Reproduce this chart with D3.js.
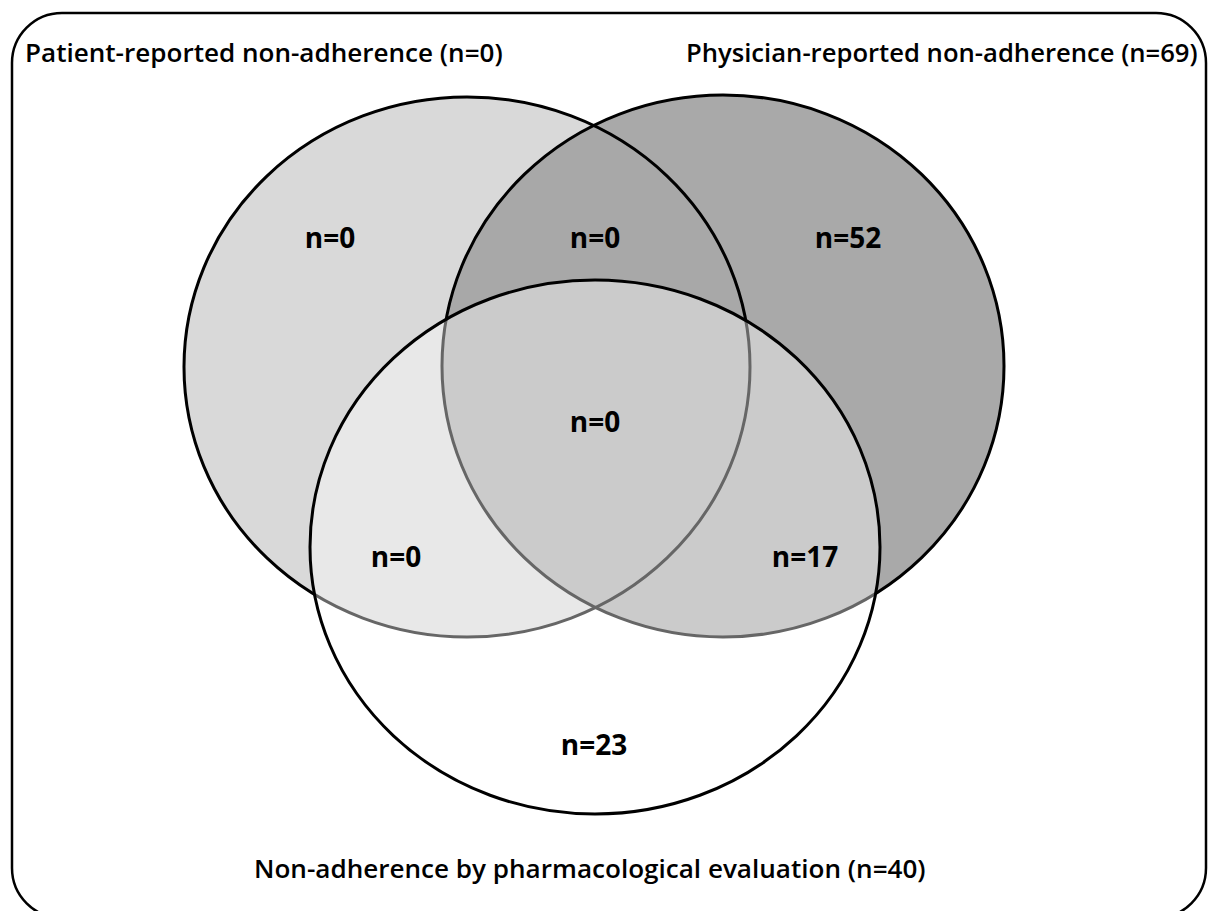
<!DOCTYPE html>
<html>
<head>
<meta charset="utf-8">
<script src="https://cdn.jsdelivr.net/npm/d3@7"></script>
<style>
  body { margin: 0; background: #fff; }
  svg { display: block; }
</style>
</head>
<body>
<div id="chart"><svg width="1208" height="911"></svg></div>
<script>
// set names and totals
const setNames = [
  'Patient-reported non-adherence',
  'Physician-reported non-adherence',
  'Non-adherence by pharmacological evaluation'
];
const setTotals = [0, 69, 40];

// region counts (which sets each region belongs to)
const regionSets = [[0], [0, 1], [1], [0, 1, 2], [0, 2], [1, 2], [2]];
const regionCounts = [0, 0, 52, 0, 0, 17, 23];

// layout
const ellipses = [
  {cx: 467, cy: 367, rx: 283, ry: 270},
  {cx: 723, cy: 366, rx: 281, ry: 271},
  {cx: 595, cy: 547, rx: 285, ry: 267}
];
const regionPos = [
  [330, 237], [595, 237], [848, 237], [595, 421], [396, 556], [805, 556], [594, 744]
];
const setLabelPos = [
  {x: 25, y: 62, w: 478},
  {x: 686, y: 62, w: 512},
  {x: 254, y: 878, w: 672}
];

const svg = d3.select('#chart svg');

// outer rounded frame
svg.append('rect')
  .attr('x', 12)
  .attr('y', 13)
  .attr('width', 1194)
  .attr('height', 905)
  .attr('rx', 50)
  .attr('ry', 50)
  .attr('fill', 'white')
  .attr('stroke', 'black')
  .attr('stroke-width', 2.5);

function ellipse(e) {
  return svg.append('ellipse')
    .attr('cx', e.cx)
    .attr('cy', e.cy)
    .attr('rx', e.rx)
    .attr('ry', e.ry);
}

// first two sets: fills then outlines
ellipse(ellipses[0]).attr('fill', '#d9d9d9');
ellipse(ellipses[1]).attr('fill', '#a6a6a6').attr('fill-opacity', 0.97);
ellipse(ellipses[0]).attr('fill', 'none').attr('stroke', 'black').attr('stroke-width', 3);
ellipse(ellipses[1]).attr('fill', 'none').attr('stroke', 'black').attr('stroke-width', 3);

// third set washes what is under it
ellipse(ellipses[2])
  .attr('fill', 'white')
  .attr('fill-opacity', 0.4)
  .attr('stroke', 'black')
  .attr('stroke-width', 3);

// region counts
svg.append('g')
  .selectAll('text')
  .data(regionCounts)
  .join('text')
  .attr('x', (d, i) => regionPos[i][0])
  .attr('y', (d, i) => regionPos[i][1])
  .attr('text-anchor', 'middle')
  .attr('dominant-baseline', 'central')
  .attr('font-family', 'Open Sans, sans-serif')
  .attr('font-weight', 'bold')
  .attr('font-size', 28)
  .attr('fill', 'black')
  .text(d => `n=${d}`);

// set labels, font size fitted to the width they take in the original
svg.append('g')
  .selectAll('text')
  .data(setNames)
  .join('text')
  .attr('x', (d, i) => setLabelPos[i].x)
  .attr('y', (d, i) => setLabelPos[i].y)
  .attr('font-family', 'Open Sans, sans-serif')
  .attr('font-weight', 600)
  .attr('font-size', 27)
  .attr('fill', 'black')
  .text((d, i) => `${d} (n=${setTotals[i]})`)
  .each(function(d, i) {
    let len = this.getComputedTextLength();
    d3.select(this).attr('font-size', 27 * setLabelPos[i].w / len);
  });
</script>
</body>
</html>
